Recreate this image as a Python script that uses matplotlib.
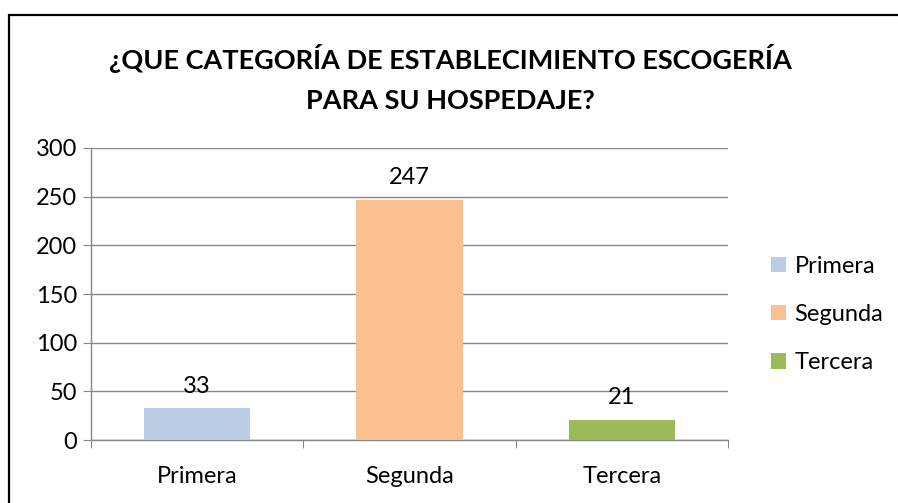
import matplotlib.pyplot as plt
from matplotlib.patches import Rectangle

categories = ['Primera', 'Segunda', 'Tercera']
values = [33, 247, 21]
colors = ['#B9CDE5', '#FAC090', '#9BBB59']
yticks = [0, 50, 100, 150, 200, 250, 300]

plt.rcParams['font.family'] = ['Lato', 'DejaVu Sans']

fig = plt.figure(figsize=(8.98, 5.03), dpi=100)
ax = fig.add_axes([0.1013, 0.1252, 0.7094, 0.5806])

x = range(len(categories))
bars = ax.bar(x, values, width=0.5, color=colors, label=categories, zorder=3)

for xi, v in zip(x, values):
    ax.annotate(str(v), (xi, v), xytext=(0, 8), textcoords='offset points',
                ha='center', va='bottom', fontsize=17)

ax.set_xlim(-0.5, 2.5)
ax.set_ylim(0, 300)
ax.set_yticks(yticks)
ax.set_yticklabels([str(t) for t in yticks], fontsize=17)
ax.set_xticks([-0.5, 0.5, 1.5, 2.5])
ax.set_xticklabels([])
ax.set_xticks(list(x), minor=True)
ax.set_xticklabels(categories, minor=True, fontsize=17)
ax.tick_params(axis='x', which='minor', length=0, pad=19)
ax.tick_params(axis='x', which='major', length=6, color='#868686', direction='out')
ax.tick_params(axis='y', length=6, color='#868686', direction='out', pad=4)
ax.grid(axis='y', color='#868686', linewidth=1, zorder=0)
for s in ['top', 'right']:
    ax.spines[s].set_visible(False)
for s in ['left', 'bottom']:
    ax.spines[s].set_color('#868686')
    ax.spines[s].set_linewidth(1)

fig.text(0.502, 0.843, '¿QUE CATEGORÍA DE ESTABLECIMIENTO ESCOGERÍA\nPARA SU HOSPEDAJE?',
         ha='center', va='center', fontsize=19.5, fontweight='bold', linespacing=1.8)

leg = fig.legend(handles=bars, labels=categories, loc='center left',
                 bbox_to_anchor=(0.835, 0.375), frameon=False, fontsize=17,
                 handlelength=0.65, handleheight=0.65, handletextpad=0.35, labelspacing=1.15)

fig.patches.append(Rectangle((9 / 898, -0.1), 1.2, 1.1 - 15 / 503, transform=fig.transFigure,
                             fill=False, edgecolor='black', linewidth=1.6))

fig.savefig('out.png', dpi=100)
